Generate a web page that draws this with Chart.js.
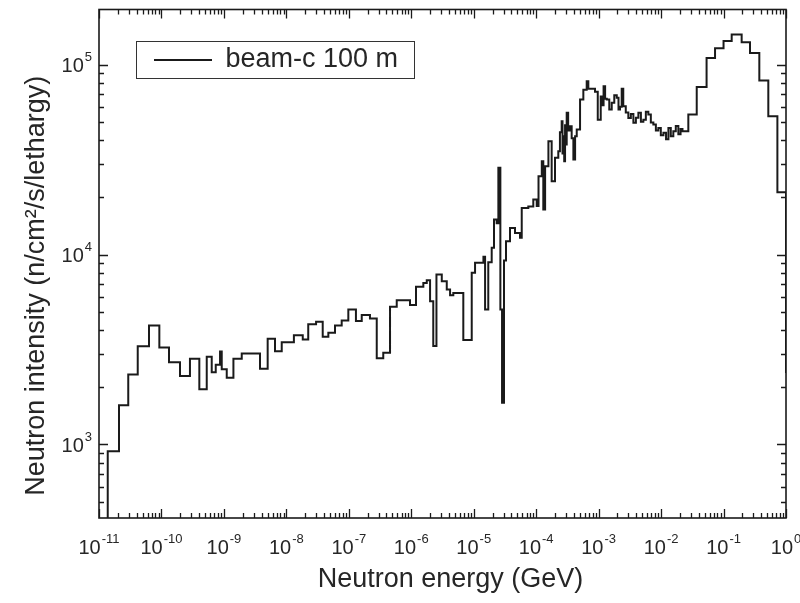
<!DOCTYPE html>
<html>
<head>
<meta charset="utf-8">
<script src="https://cdn.jsdelivr.net/npm/chart.js@4.4.1/dist/chart.umd.min.js"></script>
<style>
  html, body { margin: 0; padding: 0; background: #ffffff; }
  #wrap { width: 800px; height: 603px; }
</style>
</head>
<body>
<div id="wrap"><canvas id="c" width="800" height="603"></canvas></div>
<script>
// ---- data ----
const seriesLabel = 'beam-c 100 m';

// left edge of each histogram bin (GeV); the last entry is the upper end of the spectrum
const energyEdges = [
  1.00e-11, 1.38e-11, 2.09e-11, 2.94e-11, 4.17e-11, 6.32e-11, 9.25e-11, 1.32e-10, 1.98e-10, 2.86e-10,
  4.04e-10, 5.31e-10, 6.38e-10, 7.40e-10, 8.67e-10, 9.23e-10, 1.11e-9, 1.42e-9, 1.93e-9, 3.78e-9,
  5.02e-9, 6.58e-9, 8.43e-9, 1.32e-8, 1.83e-8, 2.24e-8, 2.99e-8, 3.82e-8, 4.70e-8, 6.01e-8,
  7.69e-8, 9.82e-8, 1.30e-7, 1.61e-7, 2.18e-7, 2.80e-7, 3.56e-7, 4.57e-7, 5.85e-7, 9.55e-7,
  1.19e-6, 1.56e-6, 1.77e-6, 2.00e-6, 2.25e-6, 2.53e-6, 3.08e-6, 3.70e-6, 4.18e-6, 4.71e-6,
  6.81e-6, 9.29e-6, 1.05e-5, 1.43e-5, 1.52e-5, 1.71e-5, 1.94e-5, 2.11e-5, 2.33e-5, 2.48e-5,
  2.67e-5, 2.84e-5, 3.05e-5, 3.29e-5, 3.81e-5, 4.58e-5, 5.51e-5, 5.87e-5, 7.48e-5, 8.99e-5,
  1.02e-4, 1.09e-4, 1.23e-4, 1.30e-4, 1.39e-4, 1.57e-4, 1.77e-4, 2.00e-4, 2.26e-4, 2.40e-4,
  2.56e-4, 2.64e-4, 2.72e-4, 2.81e-4, 2.90e-4, 3.00e-4, 3.08e-4, 3.25e-4, 3.48e-4, 3.70e-4,
  3.94e-4, 4.20e-4, 4.46e-4, 5.04e-4, 5.69e-4, 6.44e-4, 6.84e-4, 8.75e-4, 9.68e-4, 1.08e-3,
  1.14e-3, 1.20e-3, 1.27e-3, 1.35e-3, 1.48e-3, 1.62e-3, 1.78e-3, 1.95e-3, 2.08e-3, 2.20e-3,
  2.34e-3, 2.48e-3, 2.72e-3, 2.99e-3, 3.28e-3, 3.60e-3, 3.95e-3, 4.33e-3, 4.75e-3, 5.20e-3,
  5.70e-3, 6.25e-3, 6.85e-3, 7.52e-3, 8.25e-3, 9.04e-3, 9.90e-3, 1.09e-2, 1.20e-2, 1.31e-2,
  1.43e-2, 1.57e-2, 1.72e-2, 1.89e-2, 2.05e-2, 2.20e-2, 2.73e-2, 3.72e-2, 5.35e-2, 7.31e-2,
  0.100, 0.135, 0.195, 0.265, 0.374, 0.521, 0.728, 1.0
];

// neutron intensity in each bin (n/cm2/s/lethargy)
const intensity = [
  300, 922, 1610, 2335, 3290, 4225, 3240, 2710, 2290, 2825,
  1950, 2900, 2400, 2630, 3090, 2485, 2245, 2825, 3010, 2500,
  3600, 3100, 3450, 3760, 3570, 4290, 4430, 3690, 3870, 4225,
  4500, 5140, 4460, 4800, 4610, 2840, 3040, 5310, 5750, 5430,
  6760, 7080, 7330, 5670, 3300, 7850, 7240, 6550, 6100, 6280,
  3550, 8020, 9040, 9720, 5140, 9100, 10840, 15280, 14600, 28600,
  5140, 1660, 9300, 11750, 13800, 13000, 12240, 17600, 17900, 19500,
  18000, 25800, 31000, 17260, 29200, 39500, 24300, 32300, 35000, 44000,
  50300, 34000, 42000, 31000, 48000, 38000, 55700, 45000, 47300, 41000,
  31600, 42000, 45500, 65500, 73800, 81700, 74500, 72000, 51300, 68000,
  61000, 76900, 66000, 65500, 58000, 62900, 69000, 66800, 58000, 60000,
  74500, 60300, 56000, 52400, 55000, 49400, 52500, 55700, 50000, 51300,
  56500, 54600, 49500, 48300, 45000, 46400, 42500, 43700, 40500, 46400,
  42000, 44600, 47500, 43000, 45800, 44600, 54600, 76200, 108400, 122000,
  133000, 143800, 131000, 115200, 82500, 53400, 21300, 2380
];

// tick labels: base 10 with an exponent
const xTickValues = [1e-11, 1e-10, 1e-9, 1e-8, 1e-7, 1e-6, 1e-5, 1e-4, 1e-3, 1e-2, 1e-1, 1];
const xTickExponents = ['-11', '-10', '-9', '-8', '-7', '-6', '-5', '-4', '-3', '-2', '-1', '0'];
const yTickValues = [1e3, 1e4, 1e5];
const yTickExponents = ['3', '4', '5'];
const tickBase = '10';

const xTitle = 'Neutron energy (GeV)';
const yTitle = 'Neutron intensity (n/cm\u00B2/s/lethargy)';

// ---- chart ----
const FONT = "'Liberation Sans', Arial, Helvetica, sans-serif";
const INK = '#1a1a1a';
const TEXT = '#262626';
const TICK_FONT = 20;
const EXP_FONT = 13;

const points = energyEdges.map((e, i) => ({ x: e, y: intensity[i] }));

function shiftTitle(scale, dx, dy) {
  if (scale._titleShifted) return;
  const orig = scale.drawTitle;
  scale.drawTitle = function () {
    const c = this.ctx;
    c.save();
    c.translate(dx, dy);
    orig.apply(this, arguments);
    c.restore();
  };
  scale._titleShifted = true;
}

const frameTicks = {
  id: 'frameTicks',
  afterLayout(chart) {
    const lg = chart.legend;
    const a = chart.chartArea;
    if (lg) {
      lg.left = a.left + 39;
      lg.top = a.top + 21;
    }
    shiftTitle(chart.scales.x, 8, 0);
    shiftTitle(chart.scales.y, 0, 22);
  },
  afterDraw(chart) {
    const { ctx, chartArea: a, scales } = chart;
    const xs = scales.x, ys = scales.y;
    ctx.save();
    ctx.strokeStyle = INK;
    // minor / major ticks pointing inward on all four sides
    ctx.lineWidth = 1.3;
    ctx.beginPath();
    const xlo = Math.floor(Math.log10(xs.min)), xhi = Math.ceil(Math.log10(xs.max));
    for (let e = xlo; e <= xhi; e++) {
      for (let m = 1; m <= 9; m++) {
        const v = m * Math.pow(10, e);
        if (v < xs.min * 0.9999 || v > xs.max * 1.0001) continue;
        const p = Math.round(xs.getPixelForValue(v)) + 0.5;
        const len = m === 1 ? 9 : 5;
        ctx.moveTo(p, a.bottom); ctx.lineTo(p, a.bottom - len);
        ctx.moveTo(p, a.top); ctx.lineTo(p, a.top + len);
      }
    }
    const ylo = Math.floor(Math.log10(ys.min)), yhi = Math.ceil(Math.log10(ys.max));
    for (let e = ylo; e <= yhi; e++) {
      for (let m = 1; m <= 9; m++) {
        const v = m * Math.pow(10, e);
        if (v < ys.min * 0.9999 || v > ys.max * 1.0001) continue;
        const p = Math.round(ys.getPixelForValue(v)) + 0.5;
        const len = m === 1 ? 9 : 5;
        ctx.moveTo(a.left, p); ctx.lineTo(a.left + len, p);
        ctx.moveTo(a.right, p); ctx.lineTo(a.right - len, p);
      }
    }
    ctx.stroke();
    // frame
    ctx.lineWidth = 1.6;
    ctx.strokeRect(a.left, a.top, a.right - a.left, a.bottom - a.top);

    // tick labels: "10" with a raised exponent
    ctx.fillStyle = TEXT;
    ctx.textBaseline = 'alphabetic';
    ctx.textAlign = 'left';
    const baseFont = TICK_FONT + 'px ' + FONT;
    const expFont = EXP_FONT + 'px ' + FONT;
    xTickValues.forEach((v, i) => {
      const p = xs.getPixelForValue(v);
      ctx.font = baseFont;
      const wb = ctx.measureText(tickBase).width;
      ctx.font = expFont;
      const we = ctx.measureText(xTickExponents[i]).width;
      const x0 = p - (wb + we + 1) / 2;
      ctx.font = baseFont;
      ctx.fillText(tickBase, x0, a.bottom + 36);
      ctx.font = expFont;
      ctx.fillText(xTickExponents[i], x0 + wb + 1, a.bottom + 25);
    });
    yTickValues.forEach((v, i) => {
      const p = ys.getPixelForValue(v);
      ctx.font = expFont;
      const we = ctx.measureText(yTickExponents[i]).width;
      ctx.font = baseFont;
      const wb = ctx.measureText(tickBase).width;
      const xr = a.left - 7;
      ctx.fillText(tickBase, xr - we - 1 - wb, p + 7.5);
      ctx.font = expFont;
      ctx.fillText(yTickExponents[i], xr - we, p - 3.5);
    });

    // legend frame
    const lg = chart.legend;
    if (lg && lg.columnSizes && lg.columnSizes.length) {
      const pad = lg.options.labels.padding;
      const fs = lg.options.labels.font.size;
      const cy = lg.top + pad + fs / 2;
      ctx.lineWidth = 1;
      ctx.strokeStyle = '#333';
      ctx.strokeRect(Math.round(lg.left - 2) + 0.5, Math.round(cy - 19) + 0.5,
        Math.round(lg.columnSizes[0].width + 2 * pad + 2), 37);
    }
    ctx.restore();
  }
};

new Chart(document.getElementById('c'), {
  type: 'line',
  data: {
    datasets: [{
      label: seriesLabel,
      data: points,
      stepped: 'before',
      borderColor: INK,
      backgroundColor: INK,
      borderWidth: 2,
      pointRadius: 0,
      pointHoverRadius: 0,
      fill: false,
      tension: 0
    }]
  },
  options: {
    responsive: false,
    animation: false,
    devicePixelRatio: 1,
    layout: { padding: { left: 0, right: 14, top: 9.5, bottom: 0 } },
    plugins: {
      tooltip: { enabled: false },
      legend: {
        position: 'chartArea',
        align: 'start',
        labels: {
          usePointStyle: true,
          pointStyle: 'line',
          pointStyleWidth: 58,
          padding: 16,
          color: TEXT,
          font: { family: FONT, size: 27 }
        }
      }
    },
    scales: {
      x: {
        type: 'logarithmic',
        position: 'bottom',
        min: 1e-11,
        max: 1,
        grid: { display: false, drawTicks: false },
        border: { display: false },
        afterBuildTicks: (s) => { s.ticks = xTickValues.map(v => ({ value: v })); },
        afterFit: (s) => { s.height = 85; },
        ticks: { display: false },
        title: {
          display: true,
          text: xTitle,
          color: TEXT,
          font: { family: FONT, size: 27 },
          padding: { top: 0, bottom: 7 }
        }
      },
      y: {
        type: 'logarithmic',
        position: 'left',
        min: 410,
        max: 195000,
        grid: { display: false, drawTicks: false },
        border: { display: false },
        afterBuildTicks: (s) => { s.ticks = yTickValues.map(v => ({ value: v })); },
        afterFit: (s) => { s.width = 99; },
        ticks: { display: false },
        title: {
          display: true,
          text: yTitle,
          color: TEXT,
          font: { family: FONT, size: 27 },
          padding: { top: 20, bottom: 0 }
        }
      }
    }
  },
  plugins: [frameTicks]
});
</script>
</body>
</html>
